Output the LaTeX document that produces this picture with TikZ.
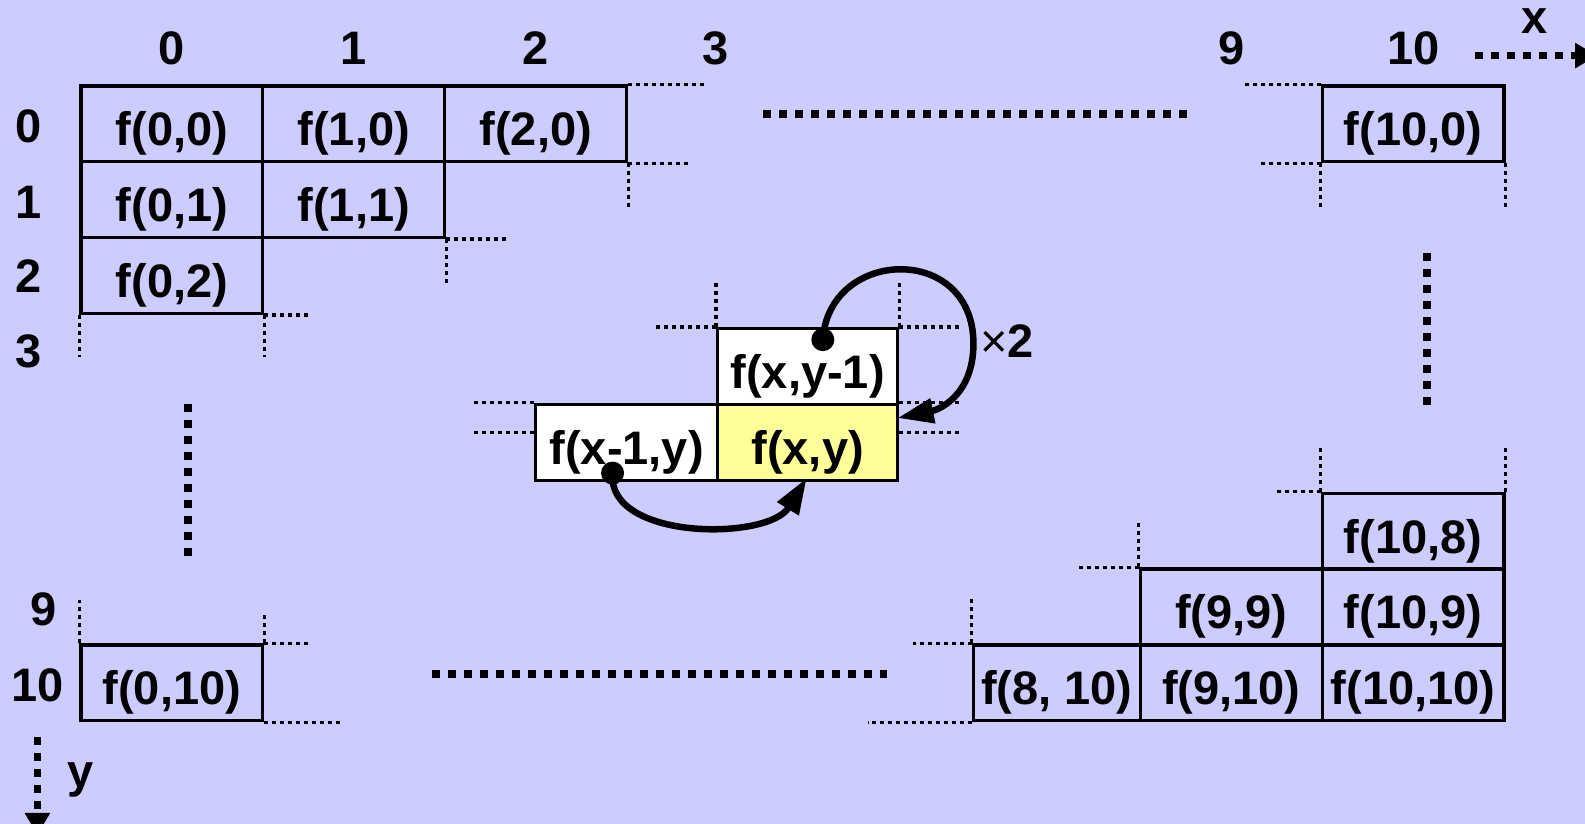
\documentclass[tikz,border=0pt]{standalone}
\usepackage{fontspec}
\setmainfont{Liberation Sans}
\usetikzlibrary{arrows.meta}
\definecolor{bg}{HTML}{CCCCFF}
\definecolor{hl}{HTML}{FFFF99}
\begin{document}
\begin{tikzpicture}[x=1.0108pt,y=-1.0108pt,
  cell/.style={draw, line width=3.3pt, minimum width=181.9pt, minimum height=75.8pt, inner sep=0pt, text height=43.6pt, text depth=0pt, font=\fontsize{47}{56}\selectfont\bfseries},
  lab/.style={inner sep=0pt, font=\fontsize{47}{56}\selectfont\bfseries},
  guide/.style={line width=3.4pt, dash pattern=on 4pt off 4pt},
  bigdots/.style={line width=8pt, dash pattern=on 8pt off 8pt},
  curve/.style={line width=6.5pt, -{Triangle[length=36pt,width=24pt]}},
  axisarrow/.style={line width=7.5pt, dash pattern=on 8pt off 8pt, -{Triangle[length=22pt,width=24pt]}},
  dotc/.style={circle, fill, inner sep=0pt, minimum size=23pt}]
\fill[bg] (0,0) rectangle (1568,815);
\useasboundingbox (0,0) rectangle (1568,815);

% column labels
\node[lab] (cx0) at (170,48) {0};
\node[lab] (cx1) at (350,48) {1};
\node[lab] (cx2) at (530,48) {2};
\node[lab] (cx3) at (708,48) {3};
\node[lab] (cx9) at (1218,48) {9};
\node[lab] (cx10) at (1398,48) {10};
% row labels
\node[lab] (ry0) at (28,125) {0};
\node[lab] (ry1) at (28,200) {1};
\node[lab] (ry2) at (28,273) {2};
\node[lab] (ry3) at (28,348) {3};
\node[lab] (ry9) at (43,603) {9};
\node[lab] (ry10) at (37,678) {10};

% top-left cells
\node[cell] (c00) at (170,122.5) {f(0,0)};
\node[cell] (c10) at (350,122.5) {f(1,0)};
\node[cell] (c20) at (530,122.5) {f(2,0)};
\node[cell] (c01) at (170,197.5) {f(0,1)};
\node[cell] (c11) at (350,197.5) {f(1,1)};
\node[cell] (c02) at (170,272.5) {f(0,2)};
% top-right
\node[cell] (c100) at (1398,122.5) {f(10,0)};
% bottom-left
\node[cell] (c010) at (170,675.5) {f(0,10)};
% bottom-right
\node[cell, minimum width=166.8pt] (c810) at (1045.5,675.5) {f(8, 10)};
\node[cell] (c910) at (1218,675.5) {f(9,10)};
\node[cell] (c1010) at (1398,675.5) {f(10,10)};
\node[cell] (c99) at (1218,600.5) {f(9,9)};
\node[cell] (c109) at (1398,600.5) {f(10,9)};
\node[cell] (c108) at (1398,525.5) {f(10,8)};
% middle
\node[cell, fill=white, minimum width=179.9pt] (up) at (799,362.5) {f(x,y-1)};
\node[cell, fill=white] (left) at (620,437.5) {f(x-1,y)};
\node[cell, fill=hl, minimum width=179.9pt] (cur) at (799,437.5) {f(x,y)};

% thin guide lines
\draw[guide] (c20.north east) -- ++(75,0);
\draw[guide] (c20.south east) -- ++(60,0);
\draw[guide] (c20.south east) -- ++(0,45);
\draw[guide] (c11.south east) -- ++(60,0);
\draw[guide] (c11.south east) -- ++(0,45);
\draw[guide] (c02.south east) -- ++(45,0);
\draw[guide] (c02.south west) -- ++(0,42);
\draw[guide] (c02.south east) -- ++(0,42);
\draw[guide] (c100.north west) -- ++(-75,0);
\draw[guide] (c100.south west) -- ++(-60,0);
\draw[guide] (c100.south west) -- ++(0,45);
\draw[guide] (c100.south east) -- ++(0,45);
\draw[guide] (up.north west) -- ++(0,-45);
\draw[guide] (up.north west) -- ++(-60,0);
\draw[guide] (up.north east) -- ++(0,-45);
\draw[guide] (up.north east) -- ++(62,0);
\draw[guide] (left.north west) -- ++(-60,0);
\draw[guide] ([yshift=-30pt]left.north west) -- ++(-60,0);
\draw[guide] (cur.north east) -- ++(60,0);
\draw[guide] ([yshift=-30pt]cur.north east) -- ++(60,0);
\draw[guide] (c010.north west) -- ++(0,-43);
\draw[guide] (c010.north east) -- ++(0,-30);
\draw[guide] (c010.north east) -- ++(45,0);
\draw[guide] (c010.south east) -- ++(77,0);
\draw[guide] (c108.north west) -- ++(0,-45);
\draw[guide] (c108.north east) -- ++(0,-45);
\draw[guide] (c108.north west) -- ++(-45,0);
\draw[guide] (c99.north west) -- ++(0,-45);
\draw[guide] (c99.north west) -- ++(-60,0);
\draw[guide] (c810.north west) -- ++(0,-45);
\draw[guide] (c810.north west) -- ++(-58,0);
\draw[guide] (c810.south west) -- ++(-103,0);

% big dotted ellipses
\coordinate (h1a) at (755,113); \coordinate (h1b) at (1176,113);
\coordinate (h2a) at (427,667); \coordinate (h2b) at (877,667);
\coordinate (v1a) at (186,400); \coordinate (v1b) at (186,552);
\coordinate (v2a) at (1412,250); \coordinate (v2b) at (1412,402);
\draw[bigdots] (h1a) -- (h1b);
\draw[bigdots] (h2a) -- (h2b);
\draw[bigdots] (v1a) -- (v1b);
\draw[bigdots] (v2a) -- (v2b);

% axes
\coordinate (xa) at (1459,55); \coordinate (xb) at (1580,55);
\draw[axisarrow] (xa) -- (xb);
\node[lab] (xl) at (1518,21) {x};
\coordinate (ya) at (37,729); \coordinate (yb) at (37,826);
\draw[axisarrow] (ya) -- (yb);
\node[lab] (yl) at (80,772) {y};

% curved arrows
\coordinate (t1) at (888,413.5);
\coordinate (t2) at (798,473);
\node[dotc] (d1) at (814,336) {};
\node[dotc] (d2) at (606,468) {};
\draw[curve] (d1.center) .. controls (820,245) and (963,240) .. (963,340) .. controls (963,390) and (930,405) .. (t1);
\draw[curve] (d2.center) .. controls (600,535) and (760,535) .. (t2);
\node[lab] (times) at (996,337) {{\fontseries{m}\selectfont ×}2};
\end{tikzpicture}
\end{document}
